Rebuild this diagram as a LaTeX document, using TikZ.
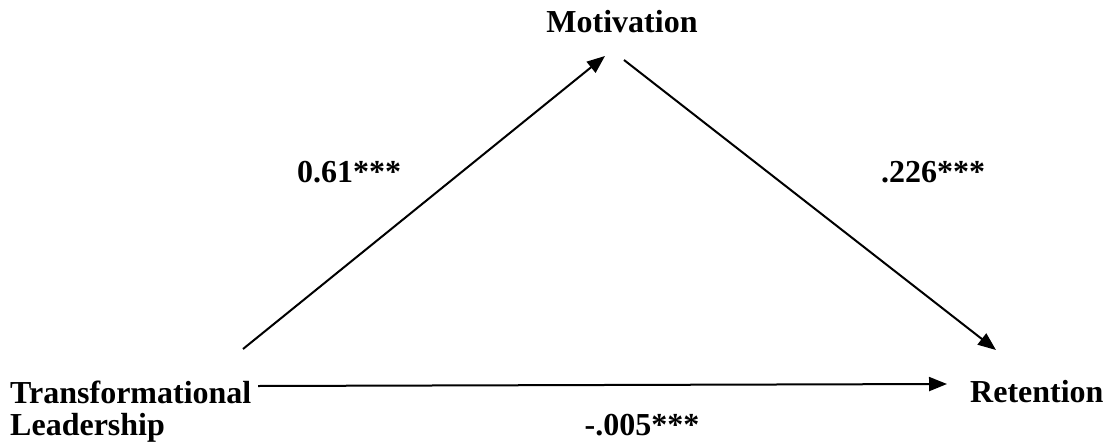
\documentclass[tikz,border=0pt]{standalone}
\usepackage{fontspec}
\setmainfont{Liberation Serif}
\usetikzlibrary{arrows.meta}
\begin{document}
\begin{tikzpicture}[x=1pt,y=-1pt,
  lbl/.style={font=\fontsize{32}{36}\selectfont\bfseries, inner sep=0pt},
  arr/.style={line width=2pt, -{Triangle[length=18pt,width=14pt]}}]
\useasboundingbox (0,0) rectangle (1107,444);
\node[lbl, anchor=base] (mot) at (622,33) {Motivation};
\node[lbl, anchor=base west] (tl) at (10,403) {Transformational};
\node[lbl, anchor=base west] (ld) at (10,435) {Leadership};
\node[lbl, anchor=base west] (ret) at (970,402) {Retention};
\node[lbl, anchor=base] (l1) at (349,182) {0.61***};
\node[lbl, anchor=base] (l2) at (933,182) {.226***};
\node[lbl, anchor=base] (l3) at (642,435) {-.005***};
\coordinate (s1) at (243,349);
\coordinate (e1) at (605,56);
\coordinate (s2) at (624,60);
\coordinate (e2) at (996,350);
\coordinate (s3) at (258,386);
\coordinate (e3) at (947,384);
\draw[arr] (s1) -- (e1);
\draw[arr] (s2) -- (e2);
\draw[arr] (s3) -- (e3);
\end{tikzpicture}
\end{document}
